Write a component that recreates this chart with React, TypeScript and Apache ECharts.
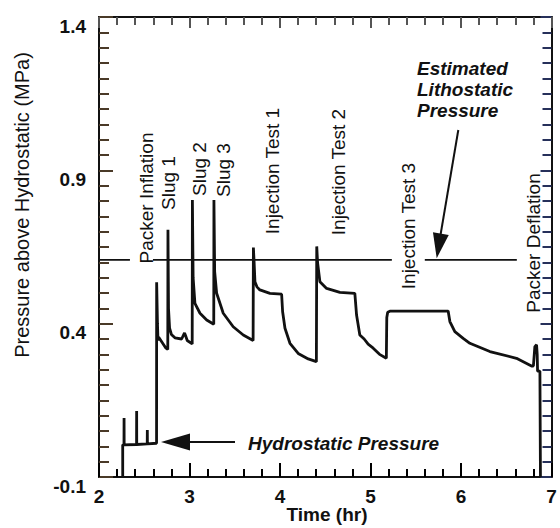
import React, { useEffect, useRef } from 'react';
import * as echarts from 'echarts';

// ---- Data ----
const timeHr = [
  2.262, 2.262, 2.276, 2.277, 2.278, 2.415, 2.416, 2.417, 2.533, 2.534, 2.535, 2.636,
  2.637, 2.646, 2.652, 2.660, 2.70, 2.74, 2.760,
  2.762, 2.768, 2.78, 2.80, 2.839, 2.913, 2.945, 2.955, 2.975, 3.030,
  3.032, 3.040, 3.060, 3.116, 3.19, 3.268,
  3.270, 3.278, 3.30, 3.373, 3.483, 3.594, 3.703,
  3.706, 3.714, 3.723, 3.745, 3.778, 3.889, 4.018,
  4.029, 4.055, 4.110, 4.201, 4.312, 4.402,
  4.406, 4.415, 4.441, 4.515, 4.662, 4.827,
  4.846, 4.882, 4.93, 4.974, 5.030, 5.10, 5.175,
  5.180, 5.19, 5.22, 5.858,
  5.877, 5.932, 6.024, 6.098, 6.319, 6.613, 6.779, 6.800,
  6.816, 6.835, 6.842, 6.846, 6.872, 6.878,
];
const pressureMPa = [
  -0.1, 0.005, 0.005, 0.092, 0.005, 0.006, 0.115, 0.006, 0.008, 0.053, 0.008, 0.010,
  0.535, 0.40, 0.345, 0.356, 0.338, 0.320, 0.316,
  0.706, 0.45, 0.385, 0.365, 0.354, 0.350, 0.370, 0.362, 0.345, 0.334,
  0.803, 0.55, 0.466, 0.434, 0.412, 0.398,
  0.803, 0.57, 0.499, 0.434, 0.390, 0.363, 0.345,
  0.648, 0.60, 0.537, 0.520, 0.510, 0.499, 0.496,
  0.439, 0.385, 0.336, 0.303, 0.285, 0.276,
  0.652, 0.60, 0.537, 0.515, 0.502, 0.499,
  0.428, 0.363, 0.350, 0.333, 0.320, 0.300, 0.287,
  0.42, 0.437, 0.441, 0.441,
  0.407, 0.374, 0.352, 0.336, 0.309, 0.287, 0.262, 0.262,
  0.325, 0.331, 0.300, 0.245, 0.245, -0.1,
];

// Estimated lithostatic pressure line (gaps where labels sit)
const lithoTime = [2.0, 2.342, 2.47, 2.596, 5.236, 5.42, 5.60, 6.617];
const lithoPressure: (number | string)[] = [0.608, 0.608, '-', 0.608, 0.608, '-', 0.608, 0.608];

// Axis ranges and tick steps
const X_MIN = 2, X_MAX = 7, X_STEP = 1, X_MINOR_SPLIT = 5;
const Y_MIN = -0.1, Y_MAX = 1.4, Y_STEP = 0.5, Y_MINOR_SPLIT = 10;

const eventLabels = [
  'Packer Inflation', 'Slug 1', 'Slug 2', 'Slug 3',
  'Injection Test 1', 'Injection Test 2', 'Injection Test 3', 'Packer Deflation',
];
const xTitle = 'Time (hr)';
const yTitle = 'Pressure above Hydrostatic (MPa)';
const lithoText = 'Estimated\nLithostatic\nPressure';
const hydroText = 'Hydrostatic Pressure';

// ---- Layout (pixels) ----
const GRID = { left: 99, top: 17, width: 452.5, height: 460 };
const eventLabelPos = [
  [146, 198], [168, 183], [199, 169], [223, 170],
  [272, 171], [338, 172], [408, 226], [533, 243],
];

const FONT = 'Liberation Sans, Arial, Helvetica, sans-serif';
const INK = '#111';
const TICK_BOTTOM = '#000000';
const TICK_TOP = '#555555';
const TICK_LEFT = '#4a3a28';
const TICK_RIGHT = '#26305a';

function arrowHead(tip: number[], from: number[], len: number, half: number) {
  const dx = tip[0] - from[0];
  const dy = tip[1] - from[1];
  const d = Math.hypot(dx, dy);
  const ux = dx / d, uy = dy / d;
  const bx = tip[0] - ux * len, by = tip[1] - uy * len;
  const px = -uy, py = ux;
  return [tip, [bx + px * half, by + py * half], [bx - px * half, by - py * half]];
}

export default function App() {
  const ref = useRef<HTMLDivElement>(null);

  useEffect(() => {
    const chart = echarts.init(ref.current!, null, { renderer: 'svg' });

    const mainData = timeHr.map((t, i) => [t, pressureMPa[i]]);
    const lithoData = lithoTime.map((t, i) => [t, lithoPressure[i]]);

    const mkAxisLine = () => ({ show: true, onZero: false, lineStyle: { color: INK, width: 2 } });
    const mkTick = (len: number, c: string) => ({ show: true, inside: true, length: len, lineStyle: { color: c, width: 2 } });
    const mkMinor = (len: number, split: number, c: string) => ({ show: true, splitNumber: split, length: len, lineStyle: { color: c, width: 2 } });

    const hydroTip = [161, 442];
    const hydroFrom = [235, 442];
    const lithoTip = [436.7, 258.3];
    const lithoFrom = [458.3, 130];

    const graphic: any[] = [
      {
        type: 'text', x: 22, y: 205, rotation: Math.PI / 2,
        style: { text: yTitle, fontFamily: FONT, fontSize: 20, fill: INK, align: 'center', verticalAlign: 'middle' },
      },
      {
        type: 'text', x: 327, y: 514,
        style: { text: xTitle, fontFamily: FONT, fontSize: 19, fontWeight: 'bold', fill: INK, align: 'center', verticalAlign: 'middle' },
      },
      ...eventLabels.map((s, i) => ({
        type: 'text', x: eventLabelPos[i][0], y: eventLabelPos[i][1], rotation: Math.PI / 2,
        style: { text: s, fontFamily: FONT, fontSize: 19, fill: INK, align: 'center', verticalAlign: 'middle' },
      })),
      {
        type: 'text', x: 417, y: 58,
        style: {
          text: lithoText, fontFamily: FONT, fontSize: 19, fontWeight: 'bold', fontStyle: 'italic',
          fill: INK, align: 'left', verticalAlign: 'top', lineHeight: 21,
        },
      },
      {
        type: 'text', x: 248, y: 443,
        style: {
          text: hydroText, fontFamily: FONT, fontSize: 19, fontWeight: 'bold', fontStyle: 'italic',
          fill: INK, align: 'left', verticalAlign: 'middle',
        },
      },
      {
        type: 'line', shape: { x1: hydroFrom[0], y1: hydroFrom[1], x2: hydroTip[0] + 20, y2: hydroTip[1] },
        style: { stroke: INK, lineWidth: 2 },
      },
      {
        type: 'polygon', shape: { points: arrowHead(hydroTip, hydroFrom, 29, 8.5) },
        style: { fill: INK },
      },
      {
        type: 'line', shape: { x1: lithoFrom[0], y1: lithoFrom[1], x2: 439.5, y2: 241 },
        style: { stroke: INK, lineWidth: 2 },
      },
      {
        type: 'polygon', shape: { points: arrowHead(lithoTip, lithoFrom, 25, 8) },
        style: { fill: INK },
      },
    ];

    chart.setOption({
      animation: false,
      backgroundColor: '#fff',
      grid: GRID,
      xAxis: [
        {
          type: 'value', min: X_MIN, max: X_MAX, interval: X_STEP, position: 'bottom',
          axisLine: mkAxisLine(), axisTick: mkTick(14, TICK_BOTTOM), minorTick: mkMinor(8, X_MINOR_SPLIT, TICK_BOTTOM),
          splitLine: { show: false },
          axisLabel: {
            color: INK, fontSize: 19, fontWeight: 'bold', fontFamily: FONT, margin: 10,
            showMinLabel: true, showMaxLabel: true,
          },
        },
        {
          type: 'value', min: X_MIN, max: X_MAX, interval: X_STEP, position: 'top',
          axisLine: mkAxisLine(), axisTick: mkTick(11, TICK_TOP), minorTick: mkMinor(8, X_MINOR_SPLIT, TICK_TOP),
          splitLine: { show: false },
          axisLabel: { show: false },
        },
      ],
      yAxis: [
        {
          type: 'value', min: Y_MIN, max: Y_MAX, interval: Y_STEP, position: 'left',
          axisLine: mkAxisLine(), axisTick: mkTick(14, TICK_LEFT), minorTick: mkMinor(10, Y_MINOR_SPLIT, TICK_LEFT),
          splitLine: { show: false },
          axisLabel: {
            color: INK, fontSize: 19, fontWeight: 'bold', fontFamily: FONT, margin: 13,
            showMinLabel: true, showMaxLabel: true,
            verticalAlign: 'top', lineHeight: 18,
            formatter: (v: number) => v.toFixed(1),
          },
        },
        {
          type: 'value', min: Y_MIN, max: Y_MAX, interval: Y_STEP, position: 'right',
          axisLine: mkAxisLine(), axisTick: mkTick(11, TICK_RIGHT), minorTick: mkMinor(9, Y_MINOR_SPLIT, TICK_RIGHT),
          splitLine: { show: false },
          axisLabel: { show: false },
        },
      ],
      series: [
        {
          type: 'line', data: lithoData, xAxisIndex: 0, yAxisIndex: 0,
          showSymbol: false, symbol: 'none', connectNulls: false,
          lineStyle: { color: INK, width: 1.6 },
        },
        {
          type: 'line', data: mainData, xAxisIndex: 0, yAxisIndex: 0,
          showSymbol: false, symbol: 'none',
          lineStyle: { color: INK, width: 2.8 },
        },
      ],
      graphic,
    });

    return () => chart.dispose();
  }, []);

  return (
    <div
      ref={ref}
      style={{ position: 'fixed', left: 0, top: 0, width: 560, height: 528, background: '#fff' }}
    />
  );
}
